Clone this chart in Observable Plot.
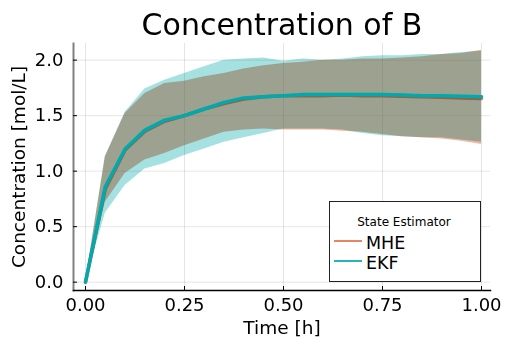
<!DOCTYPE html>
<html>
<head>
<meta charset="utf-8">
<script src="https://cdn.jsdelivr.net/npm/d3@7"></script>
<script src="https://cdn.jsdelivr.net/npm/@observablehq/plot@0.6"></script>
<style>
  html, body { margin: 0; padding: 0; background: #fff; }
  #wrap { position: relative; width: 506px; height: 345px; font-family: "DejaVu Sans", sans-serif; }
  #legend { position: absolute; left: 329px; top: 201px; }
</style>
</head>
<body>
<div id="wrap"></div>
<script>
// ---- data ----
const time = [0, 0.05, 0.10, 0.15, 0.20, 0.25, 0.30, 0.35, 0.40, 0.45, 0.50, 0.55, 0.60, 0.65, 0.70, 0.75, 0.80, 0.85, 0.90, 0.95, 1.00];
const mheMean  = [0, 0.84, 1.19, 1.36, 1.45, 1.50, 1.56, 1.61, 1.65, 1.67, 1.68, 1.68, 1.68, 1.685, 1.68, 1.68, 1.675, 1.67, 1.665, 1.66, 1.655];
const mheUpper = [0, 1.13, 1.52, 1.70, 1.79, 1.81, 1.85, 1.88, 1.92, 1.95, 1.97, 1.98, 2.00, 2.00, 2.01, 2.01, 2.02, 2.03, 2.05, 2.06, 2.09];
const mheLower = [0, 0.72, 0.98, 1.10, 1.16, 1.23, 1.29, 1.35, 1.37, 1.38, 1.37, 1.37, 1.37, 1.36, 1.35, 1.33, 1.31, 1.30, 1.29, 1.27, 1.24];
const ekfMean  = [0, 0.86, 1.20, 1.37, 1.46, 1.50, 1.56, 1.62, 1.66, 1.67, 1.68, 1.69, 1.69, 1.69, 1.69, 1.69, 1.685, 1.68, 1.68, 1.675, 1.67];
const ekfUpper = [0, 1.13, 1.53, 1.74, 1.82, 1.88, 1.94, 2.00, 2.01, 2.02, 1.99, 2.01, 2.00, 2.01, 2.03, 2.04, 2.04, 2.05, 2.05, 2.07, 2.08];
const ekfLower = [0, 0.62, 0.87, 1.02, 1.07, 1.14, 1.20, 1.26, 1.30, 1.34, 1.38, 1.38, 1.38, 1.37, 1.34, 1.32, 1.31, 1.30, 1.30, 1.28, 1.26];
const seriesNames = ["MHE", "EKF"];
const xTickValues = [0, 0.25, 0.5, 0.75, 1.0];
const xTickLabels = ["0.00", "0.25", "0.50", "0.75", "1.00"];
const yTickValues = [0, 0.5, 1.0, 1.5, 2.0];
const yTickLabels = ["0.0", "0.5", "1.0", "1.5", "2.0"];
const titleText = "Concentration of B";
const xLabel = "Time [h]";
const yLabel = "Concentration [mol/L]";
const legendTitle = "State Estimator";

const colors = {MHE: "#e36f47", EKF: "#00a9ad"};

const mhe = time.map((t, i) => ({t, mean: mheMean[i], lo: mheLower[i], hi: mheUpper[i]}));
const ekf = time.map((t, i) => ({t, mean: ekfMean[i], lo: ekfLower[i], hi: ekfUpper[i]}));

const chart = Plot.plot({
  width: 506,
  height: 345,
  marginLeft: 73,
  marginRight: 16,
  marginTop: 43,
  marginBottom: 55,
  style: {fontFamily: "DejaVu Sans, sans-serif", fontSize: "18px", background: "#fff", color: "#000"},
  x: {domain: [-0.0303, 1.0227]},
  y: {domain: [-0.075, 2.15]},
  marks: [
    Plot.gridX(xTickValues, {stroke: "#000", strokeOpacity: 0.1, strokeWidth: 1}),
    Plot.gridY(yTickValues, {stroke: "#000", strokeOpacity: 0.1, strokeWidth: 1}),
    Plot.areaY(mhe, {x: "t", y1: "lo", y2: "hi", fill: colors.MHE, fillOpacity: 0.5}),
    Plot.line(mhe, {x: "t", y: "mean", stroke: colors.MHE, strokeWidth: 3.5}),
    Plot.areaY(ekf, {x: "t", y1: "lo", y2: "hi", fill: colors.EKF, fillOpacity: 0.35}),
    Plot.line(ekf, {x: "t", y: "mean", stroke: colors.EKF, strokeWidth: 3.5}),
    Plot.frame({anchor: "left", stroke: "#808080", strokeWidth: 2}),
    Plot.frame({anchor: "bottom", stroke: "#000", strokeWidth: 1.5}),
    Plot.axisY(yTickValues, {anchor: "left", tickSize: -4, tickPadding: 14, tickFormat: (d, i) => yTickLabels[i], label: null, fontSize: 18, stroke: "#000"}),
    Plot.axisX(xTickValues, {anchor: "bottom", tickSize: -4, tickPadding: 12, tickFormat: (d, i) => xTickLabels[i], label: null, fontSize: 18, stroke: "#000"}),
    Plot.text([titleText], {frameAnchor: "top", lineAnchor: "middle", dy: -18, fontSize: 30, fill: "#000"}),
    Plot.text([xLabel], {frameAnchor: "bottom", lineAnchor: "middle", dy: 38, fontSize: 18.5, fill: "#000"}),
    Plot.text([yLabel], {frameAnchor: "left", textAnchor: "middle", lineAnchor: "middle", dx: -54, rotate: -90, fontSize: 18.5, fill: "#000"})
  ]
});

// blend the EKF band multiplicatively over the MHE band
const areas = d3.select(chart).selectAll("g[aria-label='area']").nodes();
if (areas.length > 1) d3.select(areas[1]).style("mix-blend-mode", "multiply");

const wrap = document.getElementById("wrap");
wrap.appendChild(chart);

// legend
const leg = d3.select(wrap).append("svg")
  .attr("id", "legend")
  .attr("width", 152).attr("height", 81);
leg.append("rect").attr("x", 0.5).attr("y", 0.5).attr("width", 151).attr("height", 80)
  .attr("fill", "#fff").attr("stroke", "#222").attr("stroke-width", 1);
leg.append("text").attr("x", 75).attr("y", 25).attr("text-anchor", "middle")
  .attr("font-family", "DejaVu Sans, sans-serif").attr("font-size", 12).text(legendTitle);
seriesNames.forEach((name, i) => {
  const cy = 40 + i * 20;
  leg.append("line").attr("x1", 5).attr("x2", 33).attr("y1", cy).attr("y2", cy)
    .attr("stroke", colors[name]).attr("stroke-width", 2).attr("stroke-opacity", 0.85);
  leg.append("text").attr("x", 37).attr("y", cy + 7.5)
    .attr("font-family", "DejaVu Sans, sans-serif").attr("font-size", 17.5).text(name);
});
</script>
</body>
</html>
